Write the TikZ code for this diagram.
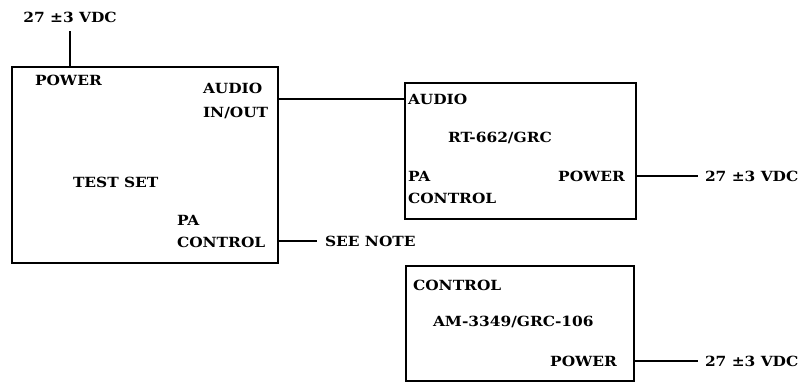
\documentclass[tikz,border=0pt]{standalone}
\usepackage{fontspec}
\setmainfont{DejaVu Serif}[FakeStretch=1.1]
\begin{document}
\begin{tikzpicture}[x=1pt,y=-1pt,
  every node/.style={inner sep=0pt,outer sep=0pt},
  lbl/.style={font=\fontsize{14}{16}\selectfont\bfseries,text height=10.2pt,text depth=0pt,anchor=west},
  lblr/.style={lbl,anchor=east},
  lblc/.style={lbl,anchor=center},
  unit/.style={draw,line width=1.4pt,rectangle},
  wire/.style={line width=1.4pt}]
\useasboundingbox (0,0) rectangle (804,386);
% boxes
\node[unit,minimum width=266pt,minimum height=196pt] (ts) at (145,165) {};
\node[unit,minimum width=231pt,minimum height=136pt] (rt) at (520.5,151) {};
\node[unit,minimum width=228pt,minimum height=115pt] (am) at (520,323.5) {};
% test set labels
\node[lblc] (vdc1) at (70,17.5) {27 ±3 VDC};
\node[lbl] (tspw) at (35,80) {POWER};
\node[lbl] (tsau) at (203,88) {AUDIO};
\node[lbl] (tsio) at (203,112) {IN/OUT};
\node[lbl] (tsname) at (73,182) {TEST SET};
\node[lbl] (tspa) at (177,220) {PA};
\node[lbl] (tsct) at (177,242) {CONTROL};
\node[lbl] (note) at (325,241) {SEE NOTE};
% RT labels
\node[lbl] (rtau) at (408,99) {AUDIO};
\node[lbl] (rtname) at (448,137) {RT-662/GRC};
\node[lbl] (rtpa) at (408,176) {PA};
\node[lbl] (rtct) at (408,198) {CONTROL};
\node[lblr] (rtpw) at (625,176) {POWER};
\node[lbl] (vdc2) at (705,176) {27 ±3 VDC};
% AM labels
\node[lbl] (amct) at (413,285) {CONTROL};
\node[lbl] (amname) at (433,321) {AM-3349/GRC-106};
\node[lblr] (ampw) at (617,361) {POWER};
\node[lbl] (vdc3) at (705,361) {27 ±3 VDC};
% connectors
\draw[wire,shorten <=8.5pt] (vdc1.south) -- (vdc1.south |- ts.north);
\draw[wire] (ts.east |- rtau.west) -- (rt.west |- rtau.west);
\draw[wire,shorten >=8pt] (ts.east |- note.west) -- (note.west);
\draw[wire,shorten >=7pt] (rt.east |- vdc2.west) -- (vdc2.west);
\draw[wire,shorten >=7pt] (am.east |- vdc3.west) -- (vdc3.west);
\end{tikzpicture}
\end{document}
